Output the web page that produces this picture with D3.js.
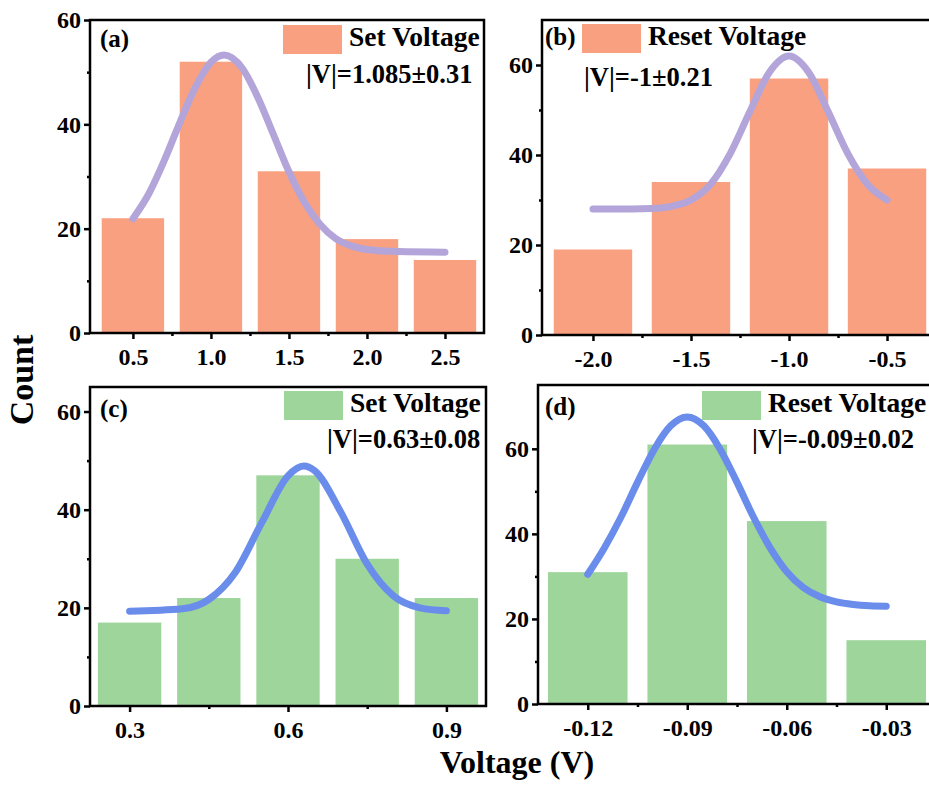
<!DOCTYPE html>
<html>
<head>
<meta charset="utf-8">
<script src="https://cdn.jsdelivr.net/npm/d3@7"></script>
<style>
  body { margin: 0; background: #fff; }
  svg { display: block; }
  svg text { font-family: 'Liberation Serif', 'Times New Roman', serif; font-weight: bold; }
</style>
</head>
<body>
<div id="grafico"></div>
<script>
// ---- dados ----
// (a) Set Voltage, material 1
const setA_centers = [0.5, 1.0, 1.5, 2.0, 2.5];
const setA_counts = [22, 52, 31, 18, 14];
const setA_fitX = [0.5, 0.6, 0.7, 0.8, 0.9, 1.0, 1.085, 1.2, 1.3, 1.4, 1.5, 1.6, 1.7, 1.8, 1.9, 2.0, 2.2, 2.5];
const setA_fitY = [21.9, 26.6, 33.0, 40.3, 47.1, 51.9, 53.3, 50.8, 45.2, 38.1, 30.9, 25.0, 20.8, 18.1, 16.7, 16.0, 15.6, 15.5];
const setA_xTicks = [0.5, 1.0, 1.5, 2.0, 2.5];

// (b) Reset Voltage, material 1
const resetB_centers = [-2.0, -1.5, -1.0, -0.5];
const resetB_counts = [19, 34, 57, 37];
const resetB_fitX = [-2.0, -1.8, -1.7, -1.6, -1.5, -1.4, -1.3, -1.2, -1.1, -1.0, -0.9, -0.8, -0.7, -0.6, -0.5];
const resetB_fitY = [28.0, 28.0, 28.1, 28.6, 30.0, 33.5, 40.3, 49.6, 58.4, 62.0, 58.4, 49.6, 40.3, 33.5, 30.0];
const resetB_xTicks = [-2.0, -1.5, -1.0, -0.5];

// (c) Set Voltage, material 2
const setC_centers = [0.3, 0.45, 0.6, 0.75, 0.9];
const setC_counts = [17, 22, 47, 30, 22];
const setC_fitX = [0.3, 0.4, 0.45, 0.5, 0.55, 0.6, 0.63, 0.65, 0.7, 0.75, 0.8, 0.85, 0.9];
const setC_fitY = [19.3, 19.8, 21.7, 27.2, 37.3, 46.9, 48.9, 48.0, 39.5, 28.9, 22.4, 20.0, 19.4];
const setC_xTicks = [0.3, 0.6, 0.9];

// (d) Reset Voltage, material 2
const resetD_centers = [-0.12, -0.09, -0.06, -0.03];
const resetD_counts = [31, 61, 43, 15];
const resetD_fitX = [-0.12, -0.115, -0.11, -0.105, -0.1, -0.095, -0.09, -0.085, -0.08, -0.075, -0.07, -0.065, -0.06, -0.055, -0.05, -0.045, -0.04, -0.035, -0.03];
const resetD_fitY = [30.5, 36.7, 43.9, 52.1, 59.8, 65.4, 67.5, 65.4, 59.8, 52.1, 43.9, 36.7, 31.1, 27.4, 25.2, 24.0, 23.4, 23.1, 23.0];
const resetD_xTicks = [-0.12, -0.09, -0.06, -0.03];

const yTicks = [0, 20, 40, 60];
const yMinorTicks = [10, 30, 50];

const fonte = "'Liberation Serif', 'Times New Roman', serif";
const corLaranja = "#f9a081";
const corVerde = "#9dd59b";
const corRoxo = "#b3a5d9";
const corAzul = "#6a8deb";

const width = 929;
const height = 785;

// formato com hifen simples no lugar do sinal de menos unicode
const fmt = (espec) => {
    const f = d3.format(espec);
    return d => f(d).replace("\u2212", "-");
};

const svg = d3.select("#grafico")
    .append("svg")
    .attr("width", width)
    .attr("height", height)
    .attr("font-family", fonte);

function desenhaPainel(p) {
    const x = d3.scaleLinear().domain(p.xDomain).range([p.left, p.right]);
    const y = d3.scaleLinear().domain([0, p.yMax]).range([p.bottom, p.top]);
    const g = svg.append("g");
    const meia = p.bin * 0.4;

    // barras
    g.selectAll(".barra")
        .data(p.counts)
        .enter().append("rect")
        .attr("class", "barra")
        .attr("x", (d, i) => x(p.centers[i] - meia))
        .attr("width", (d, i) => x(p.centers[i] + meia) - x(p.centers[i] - meia))
        .attr("y", d => y(d))
        .attr("height", d => y(0) - y(d))
        .attr("fill", p.barColor);

    // curva do ajuste
    const pontos = p.fitX.map((v, i) => [v, p.fitY[i]]);
    const linha = d3.line()
        .x(d => x(d[0]))
        .y(d => y(d[1]))
        .curve(d3.curveMonotoneX);
    g.append("path")
        .datum(pontos)
        .attr("d", linha)
        .attr("fill", "none")
        .attr("stroke", p.lineColor)
        .attr("stroke-width", 7)
        .attr("stroke-linecap", "round");

    // moldura
    g.append("rect")
        .attr("x", p.left)
        .attr("y", p.top)
        .attr("width", p.right - p.left)
        .attr("height", p.bottom - p.top)
        .attr("fill", "none")
        .attr("stroke", "#000")
        .attr("stroke-width", 2.5);

    // eixos
    const eixos = [];
    eixos.push(g.append("g")
        .attr("transform", `translate(0,${p.bottom})`)
        .call(d3.axisBottom(x).tickValues(p.xTicks).tickFormat(p.fmt).tickSize(6).tickPadding(9)));
    eixos.push(g.append("g")
        .attr("transform", `translate(0,${p.bottom})`)
        .call(d3.axisBottom(x).tickValues(p.xMinor).tickFormat("").tickSize(3)));
    eixos.push(g.append("g")
        .attr("transform", `translate(${p.left},0)`)
        .call(d3.axisLeft(y).tickValues(yTicks).tickFormat(d3.format("d")).tickSize(6).tickPadding(3)));
    eixos.push(g.append("g")
        .attr("transform", `translate(${p.left},0)`)
        .call(d3.axisLeft(y).tickValues(yMinorTicks).tickFormat("").tickSize(3)));
    eixos.forEach(e => e.attr("font-family", fonte).attr("font-size", 24).attr("font-weight", "bold"));

    g.selectAll(".domain").remove();
    g.selectAll(".tick line").attr("stroke", "#000").attr("stroke-width", 2.5);
    g.selectAll(".tick text").attr("fill", "#000");

    // letra do painel
    g.append("text")
        .attr("x", p.tagX)
        .attr("y", p.tagY)
        .attr("font-size", 25)
        .text(p.tag);

    // legenda
    g.append("rect")
        .attr("x", p.swX)
        .attr("y", p.swY)
        .attr("width", 59)
        .attr("height", 29)
        .attr("fill", p.barColor);
    g.append("text")
        .attr("x", p.swX + 66)
        .attr("y", p.swY + 21)
        .attr("font-size", 27.5)
        .text(p.nome);
    g.append("text")
        .attr("x", p.statX)
        .attr("y", p.statY)
        .attr("font-size", 26.5)
        .text(p.stat);
}

desenhaPainel({
    centers: setA_centers, counts: setA_counts, fitX: setA_fitX, fitY: setA_fitY,
    xTicks: setA_xTicks, xMinor: [0.75, 1.25, 1.75, 2.25], fmt: fmt(".1f"),
    xDomain: [0.225, 2.75], yMax: 60, bin: 0.5,
    left: 90, right: 484, top: 20, bottom: 333,
    barColor: corLaranja, lineColor: corRoxo,
    tag: "(a)", tagX: 100, tagY: 47,
    swX: 283, swY: 25, nome: "Set Voltage",
    stat: "|V|=1.085±0.31", statX: 306, statY: 83
});

desenhaPainel({
    centers: resetB_centers, counts: resetB_counts, fitX: resetB_fitX, fitY: resetB_fitY,
    xTicks: resetB_xTicks, xMinor: [-1.75, -1.25, -0.75], fmt: fmt(".1f"),
    xDomain: [-2.26, -0.24], yMax: 70, bin: 0.5,
    left: 542, right: 938, top: 20, bottom: 335,
    barColor: corLaranja, lineColor: corRoxo,
    tag: "(b)", tagX: 545, tagY: 45,
    swX: 582, swY: 24, nome: "Reset Voltage",
    stat: "|V|=-1±0.21", statX: 584, statY: 86
});

desenhaPainel({
    centers: setC_centers, counts: setC_counts, fitX: setC_fitX, fitY: setC_fitY,
    xTicks: setC_xTicks, xMinor: [0.45, 0.75], fmt: fmt(".1f"),
    xDomain: [0.225, 0.975], yMax: 65, bin: 0.15,
    left: 90, right: 486, top: 387, bottom: 706,
    barColor: corVerde, lineColor: corAzul,
    tag: "(c)", tagX: 100, tagY: 417,
    swX: 284, swY: 391, nome: "Set Voltage",
    stat: "|V|=0.63±0.08", statX: 327, statY: 448
});

desenhaPainel({
    centers: resetD_centers, counts: resetD_counts, fitX: resetD_fitX, fitY: resetD_fitY,
    xTicks: resetD_xTicks, xMinor: [-0.105, -0.075, -0.045], fmt: fmt(".2f"),
    xDomain: [-0.135, -0.015], yMax: 75, bin: 0.03,
    left: 538, right: 936, top: 385, bottom: 704,
    barColor: corVerde, lineColor: corAzul,
    tag: "(d)", tagX: 545, tagY: 415,
    swX: 702, swY: 391, nome: "Reset Voltage",
    stat: "|V|=-0.09±0.02", statX: 752, statY: 448
});

// titulos dos eixos
svg.append("text")
    .attr("transform", "translate(33,380) rotate(-90)")
    .attr("text-anchor", "middle")
    .attr("font-size", 34)
    .text("Count");

svg.append("text")
    .attr("x", 517)
    .attr("y", 773)
    .attr("text-anchor", "middle")
    .attr("font-size", 32)
    .text("Voltage (V)");
</script>
</body>
</html>
